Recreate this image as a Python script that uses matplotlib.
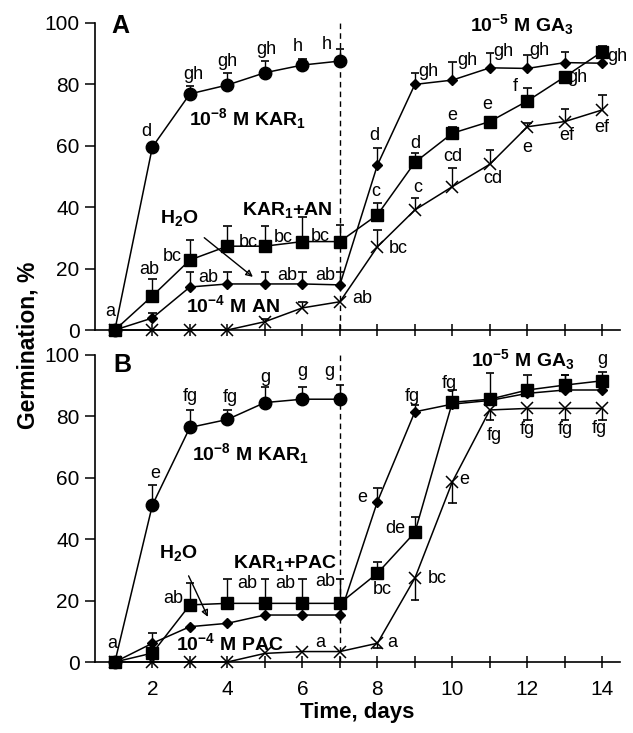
import numpy as np
import matplotlib
matplotlib.use('Agg')
import matplotlib.pyplot as plt

plt.rcParams['font.family'] = ['Liberation Sans', 'DejaVu Sans']
plt.rcParams['mathtext.fontset'] = 'custom'
plt.rcParams['mathtext.rm'] = 'Liberation Sans'
plt.rcParams['mathtext.bf'] = 'Liberation Sans:bold'
plt.rcParams['mathtext.it'] = 'Liberation Sans:italic'

# ---------------- data ----------------
days = [1, 2, 3, 4, 5, 6, 7, 8, 9, 10, 11, 12, 13, 14]
days_kar = [1, 2, 3, 4, 5, 6, 7]
xtick_labels = ['', '2', '', '4', '', '6', '', '8', '', '10', '', '12', '', '14']

# Panel A
A_kar = [0, 59.6, 76.9, 79.8, 83.8, 86.3, 87.6]
A_kar_err = [0, 1.0, 2.6, 3.9, 3.8, 1.9, 3.8]
A_h2o = [0, 3.9, 14.0, 15.0, 15.0, 15.0, 14.7, 53.7, 80.0, 81.4, 85.4, 85.2, 87.1, 86.9]
A_h2o_err = [0, 1.5, 4.9, 3.9, 3.9, 3.9, 4.2, 5.6, 3.8, 6.0, 4.8, 4.4, 3.6, 0]
A_karan = [0, 11.1, 22.8, 27.3, 27.3, 28.8, 28.8, 37.5, 54.6, 64.1, 67.9, 74.6, 82.5, 90.7]
A_karan_err = [0, 5.4, 6.5, 6.5, 6.5, 8.0, 5.5, 3.9, 3.0, 2.1, 1.0, 4.1, 1.5, 1.8]
A_an = [0, 0, 0, 0, 2.7, 7.2, 9.2, 27.1, 39.1, 46.7, 54.0, 66.2, 67.9, 71.7]
A_an_err = [0, 0, 0, 0, 0.8, 1.8, 0, 5.5, 3.9, 6.1, 4.6, 1.3, 4.0, 4.8]

# Panel B
B_kar = [0, 51.1, 76.4, 79.0, 84.5, 85.6, 85.6]
B_kar_err = [0, 6.5, 5.6, 3.0, 5.2, 4.1, 4.6]
B_h2o = [0, 6.1, 11.5, 12.6, 15.3, 15.3, 15.3, 52.2, 81.5, 84.0, 85.2, 87.5, 88.6, 88.6]
B_h2o_err = [0, 3.5, 0, 0, 0, 0, 0, 4.4, 2.2, 0, 8.8, 0, 4.9, 0]
B_karpac = [0, 2.9, 18.6, 19.1, 19.1, 19.1, 19.1, 28.9, 42.2, 84.6, 85.6, 88.6, 90.2, 91.6]
B_karpac_err = [0, 0, 7.0, 7.8, 7.8, 7.8, 7.8, 3.8, 5.1, 4.0, 0, 4.9, 3.3, 3.0]
B_pac = [0, 0, 0, 0, 2.8, 3.4, 3.4, 6.1, 27.3, 58.7, 82.1, 82.6, 82.6, 82.6]
B_pac_err_dn = [0, 0, 0, 0, 0, 0, 0, 1.6, 7.1, 7.0, 3.3, 3.8, 3.8, 3.8]

# significance letters (x, y, text)
A_letters = [
    (0.87, 5.9, 'a'),
    (1.85, 64.8, 'd'), (3.08, 83.3, 'gh'), (3.99, 87.6, 'gh'), (5.05, 91.5, 'gh'),
    (5.88, 92.5, 'h'), (6.65, 93.0, 'h'),
    (1.93, 19.8, 'ab'), (2.52, 24.1, 'bc'), (4.55, 28.5, 'bc'), (5.48, 30.0, 'bc'), (6.47, 30.6, 'bc'),
    (3.48, 17.0, 'ab'), (5.59, 17.6, 'ab'), (6.6, 17.6, 'ab'),
    (7.59, 10.4, 'ab'),
    (7.93, 63.5, 'd'), (7.96, 45.0, 'c'), (8.55, 26.7, 'bc'),
    (9.35, 84.1, 'gh'), (9.0, 60.9, 'd'), (9.08, 46.3, 'c'),
    (10.41, 87.9, 'gh'), (9.99, 70.0, 'e'), (10.01, 56.4, 'cd'),
    (11.35, 90.6, 'gh'), (10.92, 73.3, 'e'), (11.08, 49.5, 'cd'),
    (12.33, 91.2, 'gh'), (11.67, 79.2, 'f'), (11.99, 59.6, 'e'),
    (13.32, 82.1, 'gh'), (13.05, 63.5, 'ef'),
    (14.41, 89.0, 'gh'), (13.99, 66.1, 'ef'),
]
B_letters = [
    (0.92, 6.1, 'a'),
    (2.07, 61.5, 'e'), (3.0, 86.4, 'fg'), (4.07, 86.0, 'fg'), (5.0, 92.8, 'g'),
    (6.01, 94.5, 'g'), (6.73, 94.5, 'g'),
    (2.55, 20.8, 'ab'), (4.52, 25.7, 'ab'), (5.53, 25.7, 'ab'), (6.6, 26.1, 'ab'),
    (6.47, 6.5, 'a'), (8.41, 6.5, 'a'),
    (7.59, 53.7, 'e'), (8.92, 86.4, 'fg'),
    (8.47, 43.6, 'de'), (8.12, 23.5, 'bc'), (9.93, 90.8, 'fg'),
    (9.59, 27.3, 'bc'), (10.33, 59.3, 'e'),
    (11.13, 73.9, 'fg'), (12.01, 75.6, 'fg'), (13.0, 75.6, 'fg'), (13.93, 76.2, 'fg'),
    (14.01, 98.4, 'g'),
]

# ---------------- figure ----------------
fig = plt.figure(figsize=(6.33, 7.33), dpi=100)
axA = fig.add_axes([95 / 633, 1 - 330 / 733, 525 / 633, 307 / 733])
axB = fig.add_axes([95 / 633, 1 - 662 / 733, 525 / 633, 307 / 733])

CW = 0.11  # cap half width in days


def series(ax, x, y, marker, ms, mew=1.0, err_up=None, err_dn=None, z=3):
    ax.plot(x, y, color='k', lw=1.1, marker=marker, ms=ms, mfc='k', mec='k',
            mew=mew, clip_on=False, zorder=z)
    if err_up is not None:
        for xi, yi, e in zip(x, y, err_up):
            if e > 0:
                ax.vlines(xi, yi, yi + e, color='k', lw=1.0, zorder=2, clip_on=False)
                ax.hlines(yi + e, xi - CW, xi + CW, color='k', lw=1.2, zorder=2, clip_on=False)
    if err_dn is not None:
        for xi, yi, e in zip(x, y, err_dn):
            if e > 0:
                ax.vlines(xi, yi - e, yi, color='k', lw=1.0, zorder=2, clip_on=False)
                ax.hlines(yi - e, xi - CW, xi + CW, color='k', lw=1.2, zorder=2, clip_on=False)


def style(ax, show_xlabels):
    ax.set_xlim(0.47, 14.47)
    ax.set_ylim(0, 100)
    ax.spines['top'].set_visible(False)
    ax.spines['right'].set_visible(False)
    for s in ('left', 'bottom'):
        ax.spines[s].set_linewidth(1.2)
    ax.set_yticks([0, 20, 40, 60, 80, 100])
    ax.set_xticks(days)
    ax.tick_params(axis='y', direction='out', length=7, width=1.1, pad=4, labelsize=15)
    ax.tick_params(axis='x', direction='inout', length=8, width=1.1, pad=9, labelsize=15)
    if show_xlabels:
        ax.set_xticklabels(xtick_labels)
    else:
        ax.set_xticklabels([])
    ax.axvline(7, ymin=0, ymax=1, color='k', lw=1.0, ls=(0, (4, 3)), zorder=1)


lbl_kw = dict(fontsize=13, ha='center', va='center', zorder=5)
bold_kw = dict(fontsize=14, fontweight='bold', ha='center', va='center', zorder=5)

# Panel A
style(axA, False)
series(axA, days, A_an, 'x', 9, mew=1.1, err_up=A_an_err)
series(axA, days, A_h2o, 'D', 5, err_up=A_h2o_err)
series(axA, days_kar, A_kar, 'o', 9, err_up=A_kar_err)
series(axA, days, A_karan, 's', 8.5, err_up=A_karan_err, z=4)
for x, y, t in A_letters:
    axA.text(x, y, t, **lbl_kw)
axA.text(4.52, 69, r'10$^{\mathbf{-8}}$ M KAR$_{\mathbf{1}}$', **bold_kw)
axA.text(5.59, 39, r'KAR$_{\mathbf{1}}$+AN', **bold_kw)
axA.text(4.15, 8.1, r'10$^{\mathbf{-4}}$ M AN', **bold_kw)
axA.text(11.85, 99.5, r'10$^{\mathbf{-5}}$ M GA$_{\mathbf{3}}$', **bold_kw)
axA.annotate(r'H$_{\mathbf{2}}$O', xy=(4.68, 17.3), xytext=(2.73, 36.5),
             fontsize=14, fontweight='bold', ha='center', va='center',
             arrowprops=dict(arrowstyle='-|>', color='k', lw=1.0, fill=False,
                             shrinkA=8, shrinkB=0, mutation_scale=10))
axA.text(0.9, 99, 'A', fontsize=18, fontweight='bold', ha='left', va='center')

# Panel B
style(axB, True)
series(axB, days, B_pac, 'x', 9, mew=1.1, err_dn=B_pac_err_dn)
series(axB, days, B_h2o, 'D', 5, err_up=B_h2o_err)
series(axB, days_kar, B_kar, 'o', 9, err_up=B_kar_err)
series(axB, days, B_karpac, 's', 8.5, err_up=B_karpac_err, z=4)
for x, y, t in B_letters:
    axB.text(x, y, t, **lbl_kw)
axB.text(4.6, 68, r'10$^{\mathbf{-8}}$ M KAR$_{\mathbf{1}}$', **bold_kw)
axB.text(5.53, 32.2, r'KAR$_{\mathbf{1}}$+PAC', **bold_kw)
axB.text(4.07, 6.1, r'10$^{\mathbf{-4}}$ M PAC', **bold_kw)
axB.text(11.88, 98.4, r'10$^{\mathbf{-5}}$ M GA$_{\mathbf{3}}$', **bold_kw)
axB.annotate(r'H$_{\mathbf{2}}$O', xy=(3.48, 14.7), xytext=(2.68, 35.5),
             fontsize=14, fontweight='bold', ha='center', va='center',
             arrowprops=dict(arrowstyle='-|>', color='k', lw=1.0, fill=False,
                             shrinkA=8, shrinkB=0, mutation_scale=10))
axB.text(0.95, 96.7, 'B', fontsize=18, fontweight='bold', ha='left', va='center')
axB.set_xlabel('Time, days', fontsize=16, fontweight='bold', labelpad=2)

fig.text(0.045, 1 - 345 / 733, 'Germination, %', rotation=90, fontsize=16.5,
         fontweight='bold', ha='center', va='center')

fig.savefig('out.png', dpi=100)
